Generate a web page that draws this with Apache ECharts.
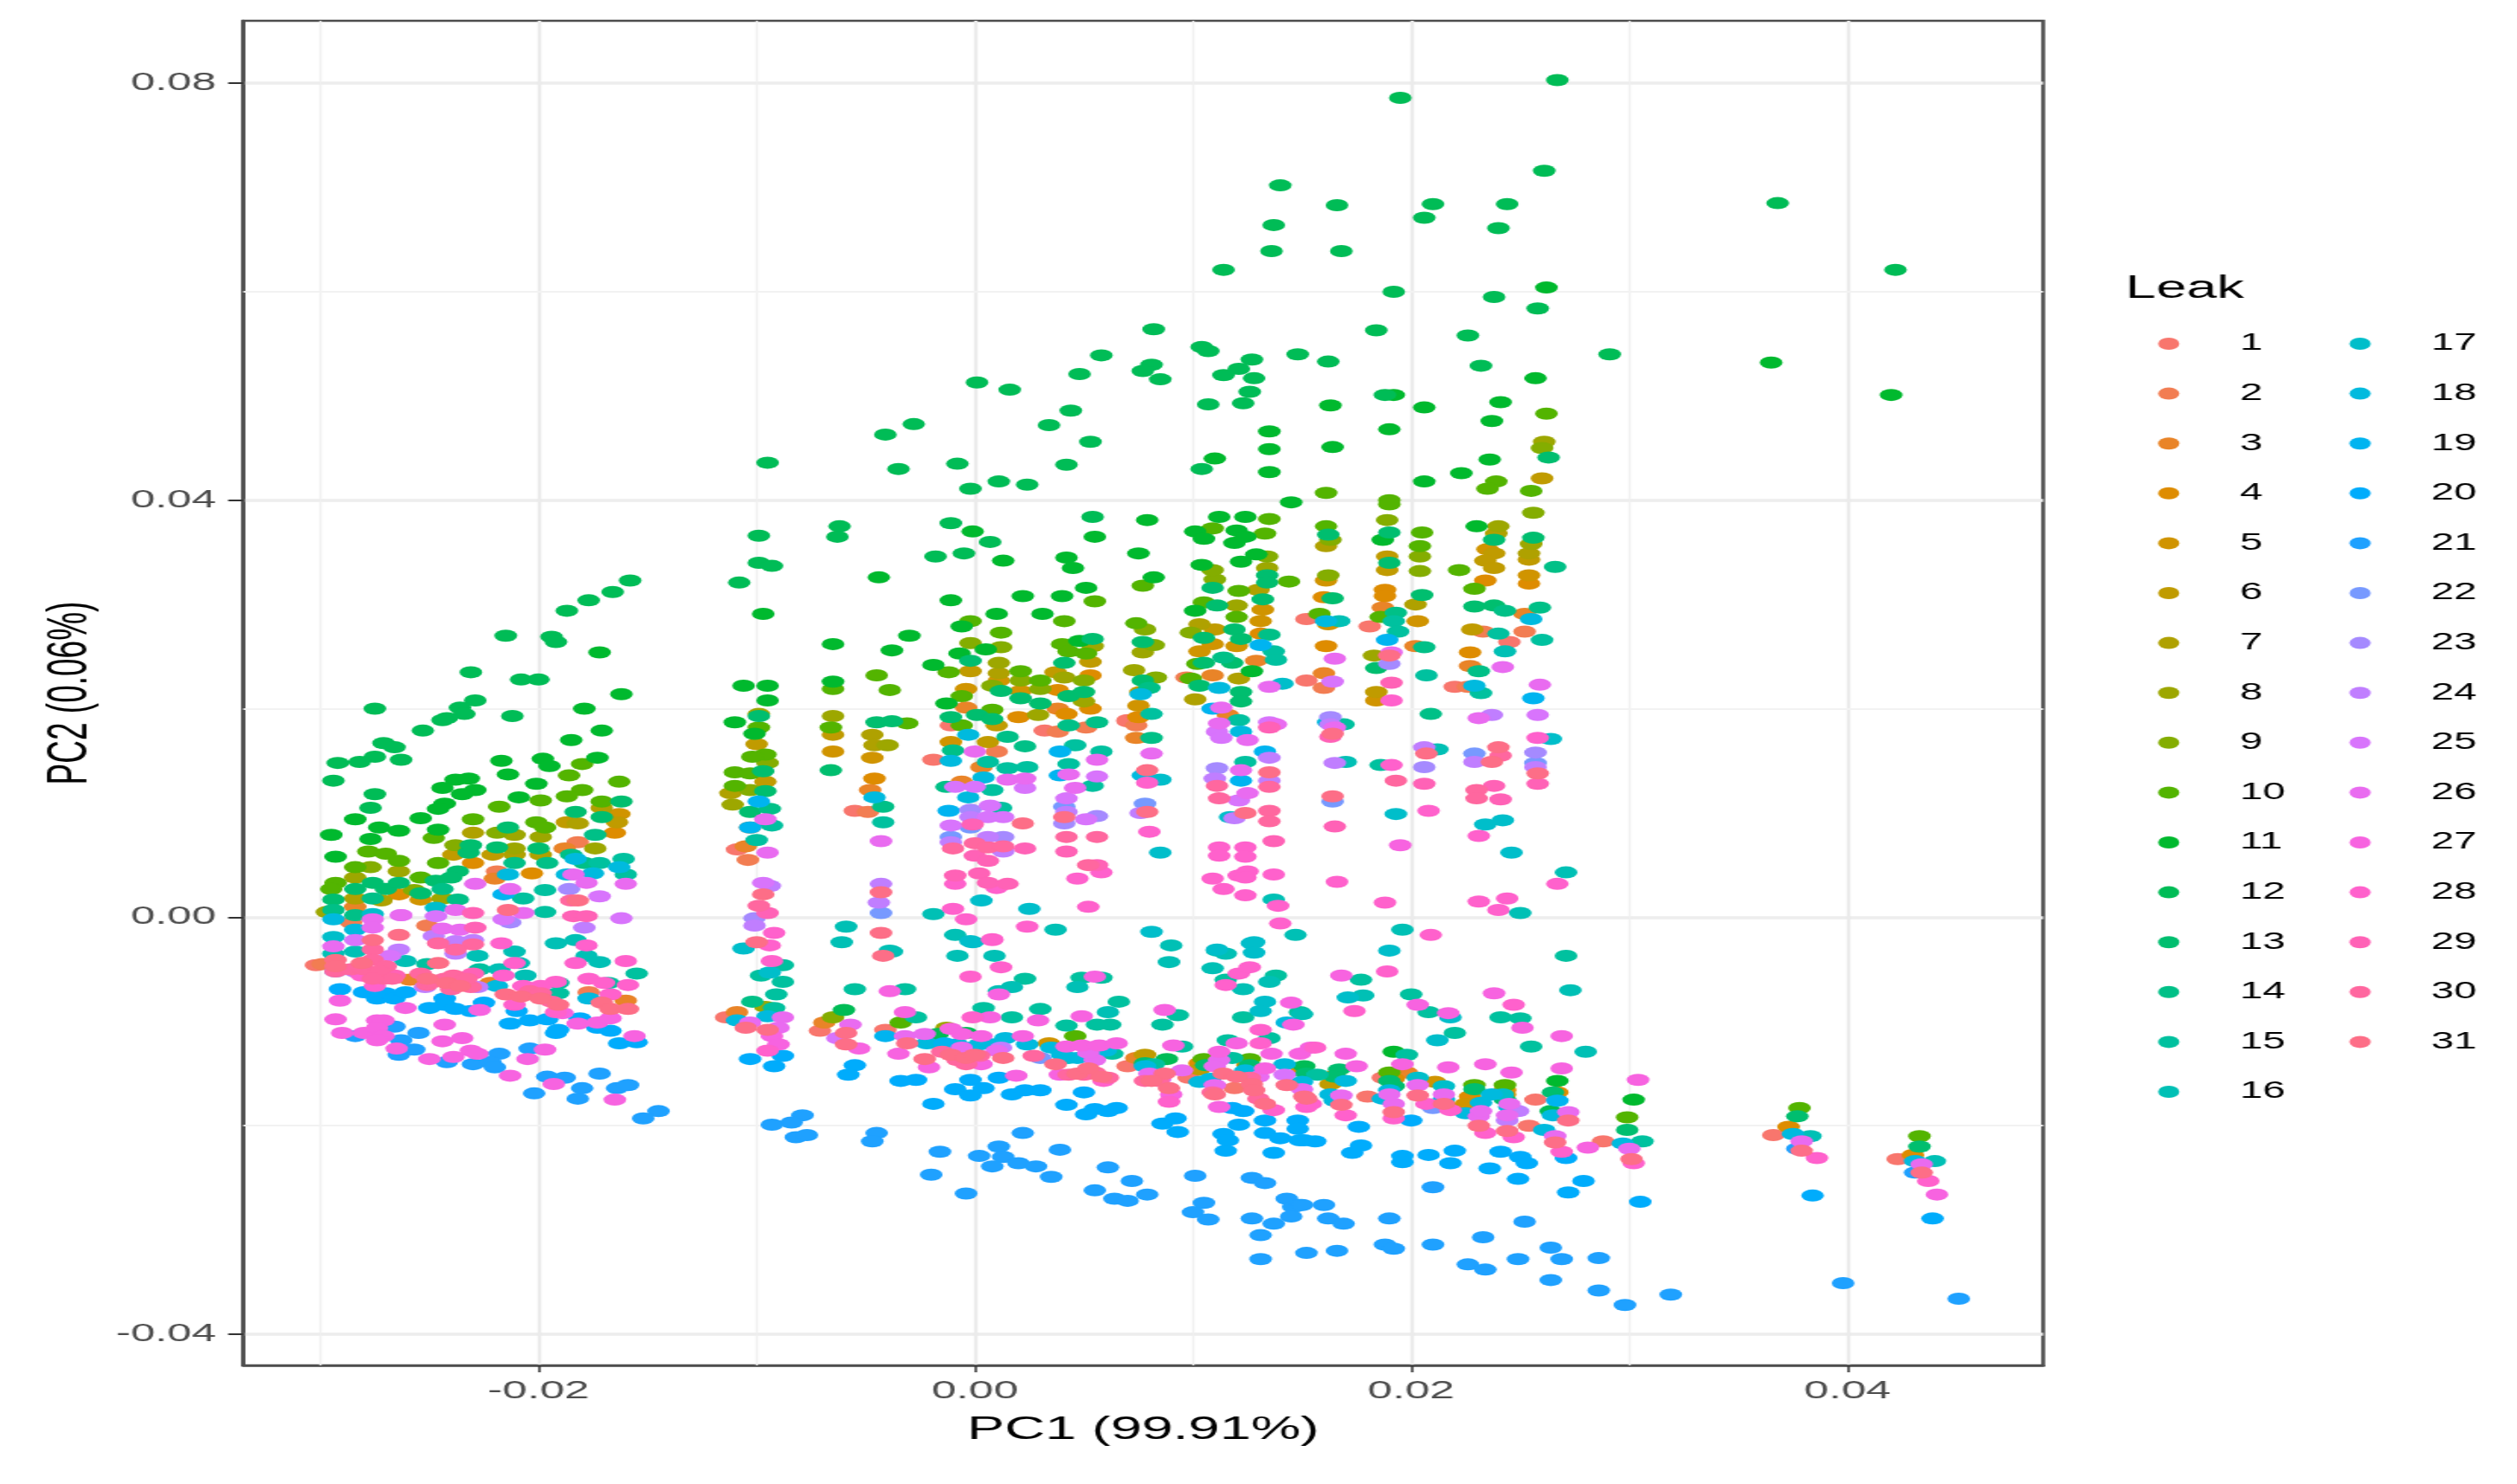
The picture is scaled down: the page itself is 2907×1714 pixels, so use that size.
<!DOCTYPE html>
<html>
<head>
<meta charset="utf-8">
<style>
  html, body { margin: 0; padding: 0; background: #fff; overflow: hidden; }
  #chart { height: 1714px; transform-origin: 0 0; }
</style>
<script src="https://cdn.jsdelivr.net/npm/echarts@6/dist/echarts.min.js"></script>
</head>
<body>
<div id="chart"></div>
<script>
// points, [PC1, PC2], one list per leak
const leak1 = [[-.0055,.0102],[-.0019,.0151],[.0032,.0179],[.0070,.0188],[-.0109,.0065],[-.0011,.0184],[.0152,.0227],[.0152,.0286],[.0181,.0279],[.0220,.0221],[.0245,.0264],[.0070,.0189],[-.0302,-.0046],[-.0114,-.0096],[-.0071,-.0109],[-.0041,-.0108],[.0070,-.0143],[.0098,-.0154],[.0119,-.0164],[.0180,-.0172],[.0187,-.0154],[.0257,-.0175],[.0254,-.0200],[.0288,-.0215],[.0366,-.0209],[.0423,-.0232]]
const leak2 = [[-.0049,.0101],[.0038,.0178],[.0051,.0182],[-.0104,.0055],[.0010,.0159],[.0160,.0220],[.0226,.0221],[.0252,.0274],[.0233,.0274],[.0097,.0230],[.0074,.0184],[-.0182,.0072],[-.0219,.0044],[-.0286,-.0005],[-.0251,-.0008],[-.0299,-.0045],[-.0177,-.0072]]
const leak3 = [[-.0004,.0201],[.0038,.0200],[-.0048,.0122],[-.0006,.0130],[.0003,.0144],[-.0105,.0068],[-.0103,.0086],[.0187,.0297],[.0160,.0234],[.0202,.0260],[.0227,.0241],[.0252,.0291],[.0109,.0232],[.0129,.0246],[.0116,.0194],[.0074,.0172],[-.0188,.0066],[-.0220,.0037],[-.0284,.0010],[-.0222,-.0063],[-.0259,-.0060],[-.0160,-.0080],[-.0109,-.0091],[-.0069,-.0101],[.0074,-.0135],[.0198,-.0149]]
const leak4 = [[.0020,.0192],[.0038,.0218],[.0042,.0195],[.0053,.0232],[.0053,.0200],[-.0046,.0133],[.0188,.0314],[.0188,.0308],[.0234,.0323],[.0254,.0320],[.0160,.0307],[.0161,.0260],[.0227,.0254],[.0131,.0272],[.0075,.0192],[-.0165,.0081],[-.0230,.0052],[-.0203,.0042],[-.0264,.0022],[.0267,-.0168],[.0373,-.0201],[.0430,-.0228],[.0103,-.0140],[.0125,-.0142],[.0150,-.0145],[.0165,-.0152],[.0192,-.0155],[.0227,-.0172],[.0243,-.0166]]
const leak5 = [[-.0004,.0219],[.0011,.0227],[.0021,.0217],[-.0065,.0159],[-.0047,.0153],[-.0011,.0168],[.0162,.0281],[.0161,.0323],[.0254,.0328],[.0235,.0353],[.0203,.0284],[.0103,.0255],[.0109,.0262],[.0120,.0260],[.0131,.0284],[.0132,.0295],[.0075,.0203],[.0184,.0208],[-.0163,.0099],[-.0254,.0017],[.0034,-.0121],[.0211,-.0158],[.0243,-.0170],[.0225,-.0179]]
const leak6 = [[-.0096,.0130],[-.0100,.0166],[-.0065,.0175],[.0053,.0245],[-.0002,.0236],[.0037,.0235],[.0006,.0168],[.0010,.0184],[.0189,.0346],[.0189,.0333],[.0238,.0349],[.0234,.0342],[.0238,.0335],[.0254,.0343],[.0110,.0276],[.0076,.0216],[.0184,.0216],[.0228,.0276],[.0260,.0421],[-.0187,.0091],[-.0164,.0091],[-.0239,.0060],[-.0221,.0060],[.0078,-.0132],[.0103,-.0146],[.0163,-.0160]]
const leak7 = [[-.0047,.0175],[-.0046,.0165],[-.0112,.0119],[.0011,.0234],[.0161,.0356],[.0202,.0300],[.0239,.0368],[.0254,.0349],[.0101,.0209],[.0103,.0281],[.0121,.0229],[.0130,.0314],[-.0284,.0018],[-.0230,.0081],[-.0211,.0060],[-.0199,.0060],[-.0182,.0090],[-.0171,.0105],[-.0272,.0016]]
const leak8 = [[-.0099,.0195],[-.0065,.0193],[-.0040,.0165],[.0029,.0194],[-.0111,.0108],[.0054,.0260],[.0011,.0244],[.0041,.0230],[.0050,.0207],[.0077,.0254],[.0073,.0237],[.0120,.0299],[.0134,.0335],[.0183,.0251],[.0240,.0375],[.0255,.0358],[.0261,.0456],[-.0264,.0044],[-.0284,.0038],[-.0244,.0018],[-.0211,.0079],[-.0199,.0077],[-.0211,.0066],[-.0174,.0066],[-.0297,.0005],[-.0096,-.0086],[-.0013,-.0106]]
const leak9 = [[-.0002,.0263],[.0012,.0259],[.0021,.0227],[.0030,.0219],[.0050,.0227],[.0008,.0222],[-.0103,.0122],[-.0095,.0148],[.0078,.0276],[.0082,.0261],[.0083,.0230],[.0110,.0324],[.0109,.0333],[.0099,.0273],[.0134,.0346],[.0162,.0328],[.0163,.0362],[.0189,.0381],[.0204,.0346],[.0204,.0332],[.0256,.0388],[.0260,.0450],[-.0277,.0048],[-.0257,.0026],[-.0238,.0069],[-.0219,.0081],[-.0065,-.0096]]
const leak10 = [[.0055,.0303],[.0041,.0284],[.0012,.0273],[-.0002,.0284],[-.0045,.0232],[-.0039,.0218],[-.0065,.0219],[-.0012,.0235],[.0021,.0236],[.0030,.0227],[.0040,.0262],[.0043,.0255],[.0051,.0253],[-.0031,.0186],[-.0099,.0182],[-.0066,.0182],[-.0096,.0156],[-.0102,.0154],[-.0110,.0139],[-.0103,.0138],[-.0110,.0126],[-.0006,.0212],[.0008,.0199],[-.0006,.0184],[.0161,.0407],[.0190,.0400],[.0190,.0396],[.0161,.0375],[.0204,.0356],[.0222,.0333],[.0229,.0315],[.0144,.0322],[.0074,.0282],[.0121,.0313],[.0105,.0302],[.0120,.0288],[.0186,.0288],[.0158,.0291],[.0102,.0243],[.0099,.0229],[.0109,.0373],[.0133,.0368],[.0135,.0382],[.0205,.0369],[.0077,.0318],[.0262,.0483],[.0239,.0418],[.0235,.0411],[.0255,.0409],[-.0180,.0147],[-.0186,.0136],[-.0163,.0130],[-.0180,.0122],[-.0187,.0116],[-.0199,.0112],[-.0218,.0106],[-.0171,.0111],[-.0201,.0091],[-.0197,.0086],[-.0230,.0094],[-.0248,.0076],[-.0278,.0063],[-.0270,.0061],[-.0264,.0054],[-.0284,.0048],[-.0246,.0052],[-.0254,.0038],[-.0293,.0033],[-.0295,.0027],[-.0034,-.0101],[.0046,-.0114],[.0105,-.0136],[.0126,-.0136],[.0190,-.0149],[.0229,-.0161],[.0243,-.0161],[.0299,-.0192],[.0378,-.0183],[.0433,-.0210]]
const leak11 = [[-.0172,.0254],[-.0162,.0214],[-.0179,.0200],[-.0171,.0179],[-.0185,.0170],[-.0173,.0153],[-.0198,.0152],[-.0195,.0145],[-.0217,.0150],[-.0214,.0137],[-.0201,.0128],[-.0238,.0132],[-.0232,.0133],[-.0244,.0124],[-.0229,.0122],[-.0235,.0118],[-.0209,.0115],[-.0243,.0109],[-.0246,.0104],[-.0254,.0095],[-.0284,.0094],[-.0295,.0079],[-.0273,.0086],[-.0264,.0083],[-.0277,.0075],[-.0246,.0084],[-.0293,.0058],[-.0097,.0291],[-.0044,.0326],[-.0011,.0304],[.0022,.0308],[.0040,.0308],[.0051,.0316],[.0031,.0291],[.0010,.0291],[-.0030,.0270],[-.0038,.0256],[-.0065,.0262],[-.0006,.0279],[-.0065,.0226],[-.0106,.0222],[-.0095,.0222],[-.0095,.0208],[-.0110,.0187],[-.0101,.0176],[.0005,.0257],[-.0007,.0253],[-.0019,.0242],[.0048,.0265],[-.0013,.0205],[.0055,.0365],[-.0001,.0370],[.0013,.0342],[.0042,.0345],[.0045,.0335],[.0079,.0381],[.0075,.0349],[.0112,.0384],[.0124,.0384],[.0101,.0370],[.0105,.0363],[.0120,.0371],[.0119,.0359],[.0124,.0365],[.0104,.0338],[.0122,.0341],[.0129,.0348],[.0101,.0294],[.0127,.0236],[.0187,.0362],[.0145,.0398],[.0135,.0427],[.0135,.0449],[.0230,.0375],[.0110,.0440],[.0082,.0326],[.0262,.0604],[.0257,.0517],[.0192,.0501],[.0163,.0491],[.0206,.0489],[.0241,.0494],[.0237,.0476],[.0190,.0468],[.0135,.0466],[.0164,.0451],[.0236,.0439],[.0223,.0426],[.0206,.0418],[.0365,.0532],[.0420,.0501],[.0192,-.0129],[.0267,-.0157],[.0302,-.0175]]
const leak12 = [[.0267,.0803],[.0195,.0786],[.0261,.0716],[.0140,.0702],[.0166,.0683],[.0210,.0684],[.0244,.0684],[.0206,.0671],[.0137,.0664],[.0240,.0661],[.0136,.0639],[.0168,.0639],[.0114,.0621],[.0192,.0600],[.0238,.0595],[.0258,.0584],[.0082,.0564],[.0184,.0563],[.0226,.0558],[.0104,.0547],[.0107,.0543],[.0058,.0539],[.0127,.0535],[.0148,.0540],[.0162,.0533],[.0291,.0540],[.0081,.0530],[.0077,.0524],[.0048,.0521],[.0085,.0516],[.0121,.0526],[.0114,.0520],[.0128,.0517],[.0232,.0529],[.0001,.0513],[.0016,.0506],[.0126,.0504],[.0188,.0501],[.0107,.0492],[.0123,.0493],[.0044,.0486],[.0034,.0472],[-.0028,.0473],[-.0041,.0463],[.0053,.0456],[.0368,.0685],[.0422,.0621],[-.0095,.0436],[-.0035,.0430],[-.0008,.0435],[.0042,.0434],[-.0002,.0411],[.0011,.0418],[.0024,.0415],[.0054,.0384],[-.0011,.0378],[.0007,.0360],[-.0018,.0346],[-.0005,.0349],[-.0062,.0375],[-.0063,.0365],[-.0099,.0366],[-.0099,.0340],[-.0093,.0337],[-.0108,.0321],[.0104,.0430],[-.0215,.0270],[-.0194,.0269],[-.0192,.0264],[-.0187,.0294],[-.0177,.0304],[-.0166,.0312],[-.0158,.0323],[-.0231,.0235],[-.0208,.0228],[-.0200,.0228],[-.0229,.0208],[-.0236,.0201],[-.0234,.0195],[-.0242,.0191],[-.0244,.0189],[-.0253,.0179],[-.0275,.0200],[-.0212,.0193],[-.0271,.0167],[-.0266,.0163],[-.0275,.0154],[-.0282,.0149],[-.0292,.0148],[-.0263,.0151],[-.0294,.0131],[-.0275,.0118],[-.0277,.0105],[-.0060,-.0089],[.0088,-.0136],[.0151,-.0143],[.0264,-.0186],[-.0017,-.0112],[-.0004,-.0111]]
const leak13 = [[-.0099,.0193],[.0054,.0267],[-.0002,.0246],[-.0045,.0187],[-.0038,.0188],[-.0011,.0192],[.0001,.0194],[.0008,.0190],[.0012,.0217],[.0021,.0210],[.0030,.0205],[.0041,.0244],[.0043,.0212],[.0050,.0216],[-.0097,.0140],[-.0096,.0121],[-.0066,.0141],[-.0103,.0101],[.0077,.0264],[.0077,.0227],[.0109,.0316],[.0111,.0299],[.0105,.0268],[.0105,.0244],[.0103,.0222],[.0119,.0276],[.0122,.0267],[.0118,.0244],[.0122,.0216],[.0122,.0207],[.0134,.0328],[.0134,.0321],[.0132,.0305],[.0162,.0367],[.0164,.0306],[.0190,.0369],[.0190,.0340],[.0205,.0309],[.0184,.0239],[.0238,.0362],[.0229,.0298],[.0238,.0299],[.0256,.0364],[.0263,.0441],[-.0276,.0033],[-.0270,.0027],[-.0264,.0033],[-.0284,.0027],[-.0294,.0017],[-.0254,.0023],[-.0247,.0035],[-.0237,.0044],[-.0232,.0062],[-.0231,.0069],[-.0240,.0038],[-.0214,.0086],[-.0219,.0067],[-.0200,.0066],[-.0183,.0101],[-.0171,.0096],[-.0162,.0111],[.0167,-.0146],[.0229,-.0165],[.0299,-.0204],[.0190,-.0157],[.0377,-.0191],[.0433,-.0220],[.0078,-.0140],[.0106,-.0142],[.0126,-.0142],[.0152,-.0150],[.0165,-.0153],[.0192,-.0162],[.0243,-.0175],[.0265,-.0168]]
const leak14 = [[.0043,.0184],[.0056,.0187],[-.0010,.0160],[.0015,.0173],[.0023,.0164],[-.0013,.0125],[-.0042,.0106],[-.0094,.0104],[.0080,.0220],[.0081,.0172],[.0114,.0249],[.0135,.0271],[.0193,.0292],[.0206,.0259],[.0209,.0195],[.0243,.0294],[.0231,.0236],[.0266,.0336],[.0259,.0297],[-.0276,.0018],[-.0294,.0007],[-.0284,.0002],[-.0244,.0027],[-.0237,.0017],[-.0211,.0052],[-.0196,.0052],[-.0174,.0079],[-.0185,.0060],[-.0179,.0052],[-.0102,-.0081]]
const leak15 = [[.0046,.0165],[.0006,.0149],[.0015,.0143],[.0024,.0144],[.0043,.0147],[.0058,.0159],[.0008,.0122],[.0054,.0126],[.0012,.0105],[-.0042,.0091],[-.0093,.0088],[-.0100,.0074],[.0081,.0195],[.0121,.0189],[.0124,.0149],[.0137,.0255],[.0138,.0247],[.0192,.0284],[.0194,.0274],[.0207,.0232],[.0240,.0272],[.0232,.0215],[.0260,.0266],[.0169,.0185],[.0186,.0146],[-.0161,.0056],[-.0172,.0052],[-.0160,.0041],[-.0197,.0026],[-.0207,.0018],[-.0197,.0005],[-.0155,-.0054],[-.0191,-.0063],[-.0168,-.0063],[-.0251,-.0045],[-.0227,-.0050],[-.0191,-.0073],[.0115,-.0060],[.0138,-.0056],[.0023,-.0059],[.0049,-.0058],[.0058,-.0058],[.0066,-.0081],[.0062,-.0103],[.0056,-.0103],[.0042,-.0104],[.0030,-.0088],[.0017,-.0096],[.0004,-.0087],[-.0055,-.0069],[-.0032,-.0069],[-.0091,-.0074],[-.0088,-.0062],[-.0088,-.0046],[-.0098,-.0056],[-.0092,-.0087],[-.0027,-.0096],[.0093,-.0094],[.0086,-.0103],[.0095,-.0124],[.0123,-.0096],[.0149,-.0091],[.0116,-.0118],[.0135,-.0116],[.0063,-.0131],[.0082,-.0141],[.0118,-.0135],[.0157,-.0151],[.0177,-.0060],[.0200,-.0074],[.0208,-.0091],[.0220,-.0111],[.0241,-.0096],[.0250,-.0097],[.0271,-.0037],[.0255,-.0124],[.0198,-.0132],[.0306,-.0215]]
const leak16 = [[-.0059,-.0009],[-.0019,.0003],[.0037,-.0012],[-.0009,-.0017],[-.0039,-.0032],[.0167,.0284],[.0243,.0255],[.0212,.0161],[.0170,.0149],[.0271,.0043],[.0250,.0004],[.0137,.0017],[.0090,-.0027],[.0147,-.0017],[.0196,-.0012],[-.0192,-.0025],[-.0183,-.0022],[-.0211,-.0033],[-.0209,-.0044],[-.0261,-.0042],[-.0228,-.0037],[-.0178,-.0037],[-.0172,-.0043],[-.0206,-.0056],[-.0284,-.0033],[-.0294,-.0035],[-.0218,-.0050],[-.0061,-.0024],[-.0038,-.0033],[-.0008,-.0037],[.0009,-.0037],[.0089,-.0043],[.0111,-.0032],[.0115,-.0035],[.0109,-.0049],[.0123,-.0069],[.0135,-.0062],[.0017,-.0067],[.0011,-.0071],[.0047,-.0067],[.0061,-.0091],[.0178,-.0075],[.0150,-.0093],[.0273,-.0070],[.0280,-.0129],[.0383,-.0210],[.0440,-.0234]]
const leak17 = [[.0003,.0016],[.0025,.0008],[-.0002,-.0023],[.0085,.0132],[.0141,.0224],[.0117,.0096],[.0085,.0062],[.0193,.0099],[.0234,.0089],[.0242,.0093],[.0246,.0062],[.0081,-.0014],[.0111,-.0031],[.0127,-.0025],[.0264,.0171],[-.0294,-.0019],[-.0276,.0003],[-.0247,.0009],[-.0106,-.0030],[-.0001,-.0024],[.0128,-.0024],[.0128,-.0034],[.0133,-.0081],[.0131,-.0090],[-.0094,-.0053],[.0043,-.0135],[.0190,-.0032],[.0171,-.0077],[.0218,-.0096],[.0212,-.0118],[.0203,-.0154],[.0215,-.0162],[.0242,-.0170]]
const leak18 = [[-.0003,.0175],[-.0011,.0150],[.0004,.0134],[-.0003,.0115],[-.0046,.0115],[.0076,.0214],[.0112,.0220],[.0122,.0178],[.0161,.0284],[.0229,.0222],[.0255,.0286],[.0077,.0136],[.0162,.0187],[-.0294,-.0002],[-.0284,-.0012],[-.0214,.0041],[-.0183,.0056],[-.0175,.0042],[-.0163,.0048],[-.0187,.0041],[-.0219,-.0066],[-.0177,-.0078],[-.0095,-.0095],[-.0109,-.0099],[.0014,-.0116],[.0024,-.0122],[.0078,-.0143],[.0124,-.0147],[.0103,-.0158],[.0142,-.0141],[.0143,-.0101],[.0170,-.0157],[.0163,-.0170],[.0187,-.0174],[.0237,-.0170],[.0225,-.0188],[.0261,-.0204],[.0297,-.0217],[.0375,-.0208],[.0431,-.0234],[-.0008,-.0122],[.0002,-.0122],[-.0022,-.0121],[.0054,-.0135],[.0047,-.0135],[.0082,-.0150],[.0108,-.0155],[.0128,-.0152],[.0150,-.0158],[.0165,-.0176],[.0190,-.0166],[.0215,-.0175],[.0232,-.0178],[.0245,-.0182],[.0265,-.0190],[.0008,-.0122],[.0035,-.0125],[.0040,-.0132],[.0060,-.0128]]
const leak19 = [[.0039,.0159],[.0039,.0136],[-.0099,.0111],[-.0103,.0086],[-.0012,.0102],[.0109,.0200],[.0131,.0261],[.0189,.0266],[.0256,.0210],[.0133,.0159],[.0122,.0131],[-.0216,.0022],[-.0041,-.0114],[-.0014,-.0121],[.0267,-.0176]]
const leak20 = [[-.0291,-.0069],[-.0280,-.0072],[-.0274,-.0078],[-.0270,-.0073],[-.0266,-.0078],[-.0261,-.0072],[-.0243,-.0078],[-.0243,-.0084],[-.0250,-.0087],[-.0238,-.0088],[-.0231,-.0090],[-.0225,-.0082],[-.0213,-.0102],[-.0204,-.0099],[-.0196,-.0098],[-.0191,-.0108],[-.0192,-.0111],[-.0210,-.0090],[-.0173,-.0106],[-.0167,-.0109],[-.0181,-.0097],[-.0163,-.0121],[-.0155,-.0120],[-.0103,-.0136],[-.0088,-.0133],[-.0092,-.0143],[-.0055,-.0142],[-.0058,-.0151],[-.0034,-.0157],[-.0027,-.0156],[-.0019,-.0179],[-.0009,-.0165],[-.0002,-.0156],[-.0002,-.0171],[.0004,-.0164],[.0011,-.0154],[.0017,-.0170],[.0023,-.0166],[.0030,-.0166],[.0050,-.0168],[.0042,-.0180],[.0051,-.0189],[.0055,-.0184],[.0061,-.0186],[.0065,-.0183],[.0086,-.0198],[.0092,-.0193],[.0093,-.0206],[.0114,-.0208],[.0116,-.0214],[.0115,-.0224],[.0121,-.0199],[.0118,-.0183],[.0123,-.0186],[.0133,-.0195],[.0133,-.0207],[.0140,-.0212],[.0148,-.0195],[.0148,-.0203],[.0149,-.0214],[.0137,-.0226],[.0176,-.0201],[.0151,-.0214],[.0156,-.0215],[.0177,-.0219],[.0173,-.0226],[.0200,-.0195],[.0196,-.0229],[.0196,-.0235],[.0208,-.0228],[.0220,-.0224],[.0218,-.0236],[.0241,-.0225],[.0250,-.0230],[.0253,-.0236],[.0236,-.0241],[.0249,-.0251],[.0271,-.0231],[.0279,-.0253],[.0272,-.0264],[.0305,-.0273],[.0384,-.0267],[.0439,-.0289]]
const leak21 = [[-.0204,-.0126],[-.0284,-.0114],[-.0266,-.0105],[-.0263,-.0118],[-.0255,-.0111],[-.0264,-.0132],[-.0257,-.0127],[-.0242,-.0139],[-.0218,-.0131],[-.0230,-.0141],[-.0222,-.0139],[-.0220,-.0144],[-.0196,-.0153],[-.0188,-.0154],[-.0172,-.0150],[-.0180,-.0164],[-.0182,-.0174],[-.0202,-.0169],[-.0164,-.0164],[-.0159,-.0161],[-.0145,-.0186],[-.0152,-.0193],[-.0079,-.0190],[-.0084,-.0197],[-.0093,-.0199],[-.0082,-.0211],[-.0077,-.0209],[-.0045,-.0207],[-.0047,-.0215],[-.0016,-.0225],[-.0020,-.0247],[-.0004,-.0265],[.0002,-.0229],[.0011,-.0220],[.0013,-.0230],[.0008,-.0239],[.0020,-.0236],[.0028,-.0239],[.0022,-.0207],[.0039,-.0223],[.0035,-.0249],[.0061,-.0240],[.0072,-.0253],[.0055,-.0262],[.0064,-.0270],[.0070,-.0272],[.0079,-.0266],[.0101,-.0248],[.0105,-.0274],[.0100,-.0283],[.0107,-.0290],[.0127,-.0250],[.0133,-.0255],[.0143,-.0270],[.0149,-.0276],[.0146,-.0278],[.0145,-.0287],[.0127,-.0289],[.0137,-.0294],[.0131,-.0305],[.0131,-.0328],[.0152,-.0322],[.0210,-.0259],[.0160,-.0276],[.0150,-.0276],[.0162,-.0289],[.0169,-.0294],[.0190,-.0289],[.0252,-.0292],[.0166,-.0320],[.0188,-.0314],[.0192,-.0318],[.0210,-.0314],[.0233,-.0307],[.0226,-.0333],[.0234,-.0338],[.0249,-.0328],[.0264,-.0317],[.0269,-.0328],[.0286,-.0327],[.0264,-.0348],[.0286,-.0358],[.0298,-.0372],[.0319,-.0362],[.0377,-.0222],[.0431,-.0245],[.0398,-.0351],[.0451,-.0366]]
const leak22 = [[.0041,.0106],[-.0002,.0086],[-.0011,.0077],[-.0043,.0004],[.0078,.0109],[.0164,.0111],[.0229,.0157],[.0257,.0148],[-.0293,-.0052],[.0210,-.0183],[.0030,-.0135]]
const leak23 = [[.0041,.0090],[.0056,.0097],[-.0002,.0103],[.0013,.0077],[-.0101,-.0001],[.0163,.0192],[.0190,.0243],[.0111,.0143],[.0206,.0144],[.0257,.0158],[-.0186,.0027],[-.0213,-.0005]]
const leak24 = [[.0042,.0101],[-.0002,.0096],[-.0011,.0072],[.0006,.0077],[.0013,.0063],[-.0043,.0032],[-.0044,.0014],[-.0094,.0030],[-.0101,-.0008],[.0163,.0185],[.0076,.0100],[.0110,.0133],[.0119,.0095],[.0135,.0153],[.0135,.0131],[.0165,.0148],[.0206,.0163],[.0229,.0149],[.0237,.0194],[.0257,.0144],[-.0179,-.0010],[-.0248,-.0018],[-.0238,-.0023],[-.0230,-.0022],[-.0264,-.0031],[-.0238,-.0035],[-.0284,-.0052],[-.0252,-.0067],[-.0228,-.0067],[.0012,-.0125],[.0249,-.0186],[.0244,-.0195]]
const leak25 = [[-.0009,.0125],[.0000,.0125],[.0023,.0124],[.0056,.0135],[.0042,.0114],[.0051,.0094],[.0007,.0107],[.0006,.0096],[.0013,.0096],[-.0011,.0088],[-.0097,.0033],[.0111,.0178],[.0113,.0172],[.0121,.0112],[.0135,.0187],[.0164,.0226],[.0258,.0194],[-.0263,.0002],[-.0247,.0001],[-.0216,-.0002],[-.0172,.0020],[-.0162,-.0001],[-.0284,-.0022],[-.0268,-.0037],[-.0063,-.0116],[.0142,-.0151]]
const leak26 = [[-.0043,.0073],[-.0095,.0062],[-.0096,.0094],[.0000,.0159],[.0015,.0132],[.0023,.0133],[.0056,.0151],[.0043,.0137],[.0046,.0124],[.0135,.0221],[.0113,.0201],[.0112,.0186],[.0125,.0170],[.0138,.0185],[.0165,.0248],[.0165,.0182],[.0191,.0254],[.0081,.0157],[.0122,.0141],[.0125,.0119],[.0231,.0191],[.0242,.0240],[.0259,.0223],[-.0263,.0002],[-.0276,-.0002],[-.0276,-.0010],[-.0229,.0032],[-.0238,.0007],[-.0213,.0027],[-.0207,.0004],[-.0184,.0041],[-.0178,.0033],[-.0160,.0032],[-.0244,-.0011],[-.0236,-.0012],[-.0294,-.0028],[-.0103,-.0101],[-.0088,-.0096],[-.0090,-.0106],[-.0057,-.0103],[-.0032,-.0114],[-.0023,-.0112],[-.0006,-.0125],[.0055,-.0137],[.0095,-.0147],[.0080,-.0150],[.0112,-.0137],[.0110,-.0143],[.0110,-.0161],[.0168,-.0171],[.0203,-.0161],[.0192,-.0179],[.0215,-.0170],[.0245,-.0179],[.0231,-.0191],[.0272,-.0187],[.0266,-.0210],[.0300,-.0222],[.0379,-.0215],[.0434,-.0237],[.0085,-.0155],[.0130,-.0153],[.0150,-.0165],[.0190,-.0170],[.0232,-.0186],[.0244,-.0190],[.0010,-.0128],[.0052,-.0130]]
const leak27 = [[-.0291,-.0080],[-.0293,-.0098],[-.0290,-.0111],[-.0280,-.0111],[-.0274,-.0099],[-.0271,-.0099],[-.0274,-.0106],[-.0271,-.0114],[-.0274,-.0118],[-.0265,-.0126],[-.0243,-.0103],[-.0244,-.0119],[-.0235,-.0116],[-.0250,-.0136],[-.0239,-.0134],[-.0231,-.0128],[-.0228,-.0131],[-.0213,-.0152],[-.0205,-.0136],[-.0197,-.0127],[-.0193,-.0160],[-.0182,-.0102],[-.0173,-.0101],[-.0167,-.0097],[-.0156,-.0114],[-.0165,-.0175],[-.0261,-.0087],[-.0227,-.0089],[-.0189,-.0092],[.0195,.0069],[-.0093,-.0114],[-.0090,-.0122],[-.0053,-.0126],[-.0032,-.0091],[-.0035,-.0131],[-.0021,-.0144],[-.0011,-.0107],[-.0006,-.0112],[.0003,-.0114],[.0007,-.0096],[.0003,-.0141],[.0022,-.0114],[.0029,-.0099],[.0019,-.0152],[.0042,-.0124],[.0049,-.0123],[.0057,-.0123],[.0065,-.0121],[.0039,-.0151],[.0049,-.0095],[.0055,-.0057],[-.0039,-.0071],[.0011,-.0074],[.0087,-.0089],[.0091,-.0123],[.0120,-.0121],[.0112,-.0129],[.0090,-.0170],[.0112,-.0182],[.0133,-.0145],[.0145,-.0082],[.0146,-.0103],[.0136,-.0131],[.0149,-.0131],[.0154,-.0125],[.0168,-.0056],[.0203,-.0084],[.0217,-.0092],[.0238,-.0073],[.0251,-.0106],[.0269,-.0114],[.0170,-.0131],[.0175,-.0143],[.0217,-.0144],[.0234,-.0141],[.0246,-.0149],[.0269,-.0145],[.0196,-.0141],[.0304,-.0156],[.0281,-.0221],[.0441,-.0266]]
const leak28 = [[.0058,.0043],[.0047,.0037],[.0052,.0010],[-.0010,.0008],[-.0004,-.0002],[.0024,-.0009],[.0008,-.0021],[-.0092,-.0015],[-.0094,-.0027],[-.0009,.0032],[.0010,.0028],[.0080,.0082],[.0112,.0067],[.0112,.0059],[.0124,.0067],[.0124,.0058],[.0109,.0037],[.0121,.0040],[.0125,.0044],[.0124,.0038],[.0137,.0041],[.0114,.0027],[.0124,.0021],[.0139,.0011],[.0140,-.0006],[.0166,.0034],[.0188,.0014],[.0191,.0146],[.0191,.0208],[.0208,.0102],[.0209,-.0017],[.0231,.0078],[.0231,.0015],[.0244,.0018],[.0240,.0007],[.0258,.0172],[.0267,.0032],[.0079,.0129],[-.0183,-.0044],[-.0160,-.0042],[-.0211,-.0044],[-.0217,-.0025],[-.0178,-.0027],[-.0177,-.0059],[-.0170,-.0063],[-.0159,-.0065],[-.0167,-.0074],[-.0192,-.0062],[-.0199,-.0066],[-.0207,-.0066],[-.0216,-.0056],[-.0275,-.0066],[-.0281,-.0056],[-.0211,-.0084],[-.0192,-.0091],[-.0095,-.0128],[-.0093,-.0042],[.0008,-.0022],[.0012,-.0048],[-.0002,-.0057],[-.0001,-.0096],[.0059,-.0157],[.0089,-.0177],[.0121,-.0054],[.0126,-.0048],[.0115,-.0065],[.0131,-.0108],[.0131,-.0121],[.0137,-.0185],[.0152,-.0182],[.0189,-.0052],[.0247,-.0084],[.0174,-.0090],[.0156,-.0125],[.0170,-.0190],[.0154,-.0179],[.0192,-.0193],[.0207,-.0179],[.0218,-.0185],[.0234,-.0207],[.0247,-.0211],[.0269,-.0225],[.0302,-.0236],[.0386,-.0231],[.0437,-.0253]]
const leak29 = [[-.0001,.0089],[.0042,.0063],[.0023,.0066],[.0000,.0059],[.0006,.0054],[-.0009,.0040],[.0002,.0042],[.0006,.0033],[.0015,.0032],[.0056,.0050],[-.0095,.0004],[.0135,.0182],[.0163,.0173],[.0191,.0225],[.0165,.0087],[.0137,.0073],[.0206,.0128],[.0238,.0126],[.0241,.0113],[.0258,.0128],[-.0184,.0001],[-.0178,.0001],[-.0230,.0004],[-.0229,-.0010],[-.0266,-.0056],[-.0230,-.0054]]
const leak30 = [[.0056,.0077],[.0042,.0077],[-.0010,.0066],[.0000,.0071],[.0006,.0067],[.0013,.0068],[.0052,.0050],[-.0099,.0011],[.0111,.0126],[.0112,.0114],[.0135,.0125],[.0135,.0102],[.0135,.0092],[.0193,.0131],[.0241,.0155],[.0230,.0122],[.0230,.0114],[-.0293,-.0052],[-.0276,-.0031],[-.0276,-.0041],[-.0270,-.0047],[-.0271,-.0059],[-.0251,-.0065],[-.0243,-.0059],[-.0231,-.0067],[-.0230,-.0026],[-.0238,-.0031],[-.0246,-.0025],[-.0185,.0016],[-.0194,-.0081],[.0027,-.0133],[-.0286,-.0050],[-.0280,-.0050],[-.0273,-.0052],[-.0267,-.0059],[-.0276,-.0059],[-.0254,-.0054],[-.0249,-.0062],[-.0239,-.0056],[-.0240,-.0069],[-.0233,-.0059],[-.0204,-.0071],[-.0199,-.0073],[-.0015,-.0129],[-.0008,-.0137],[-.0004,-.0141],[.0002,-.0133],[.0043,-.0151],[.0050,-.0151],[.0055,-.0149],[.0061,-.0154],[.0084,-.0157],[.0078,-.0157],[.0126,-.0154],[.0130,-.0174],[.0109,-.0168]]
const leak31 = [[.0022,.0090],[.0041,.0096],[-.0043,.0024],[-.0043,-.0015],[-.0097,.0022],[-.0100,-.0024],[.0079,.0141],[.0079,.0101],[.0124,.0100],[.0135,.0139],[.0164,.0176],[.0164,.0116],[.0190,.0251],[.0207,.0157],[.0240,.0163],[.0237,.0149],[.0258,.0138],[-.0293,-.0041],[-.0293,-.0047],[-.0281,-.0044],[-.0276,-.0022],[-.0264,-.0017],[-.0251,-.0059],[-.0246,-.0044],[-.0242,-.0063],[-.0236,-.0066],[-.0214,.0007],[-.0182,.0016],[-.0215,-.0074],[-.0208,-.0076],[-.0199,-.0078],[-.0191,-.0084],[-.0171,-.0082],[-.0167,-.0088],[-.0159,-.0088],[-.0042,-.0037],[-.0105,-.0106],[-.0095,-.0108],[-.0059,-.0111],[-.0059,-.0122],[-.0031,-.0121],[-.0023,-.0136],[-.0011,-.0132],[-.0004,-.0135],[.0000,-.0132],[.0013,-.0135],[.0037,-.0141],[.0047,-.0150],[.0052,-.0145],[.0058,-.0153],[.0087,-.0150],[.0081,-.0157],[.0089,-.0164],[.0114,-.0150],[.0120,-.0153],[.0110,-.0170],[.0127,-.0160],[.0128,-.0166],[.0133,-.0179],[.0143,-.0161],[.0152,-.0174],[.0168,-.0180],[.0151,-.0172],[.0192,-.0187],[.0203,-.0171],[.0215,-.0179],[.0231,-.0200],[.0244,-.0205],[.0272,-.0195],[.0266,-.0216],[.0301,-.0232],[.0379,-.0224],[.0434,-.0245]]

const leakPoints = [leak1, leak2, leak3, leak4, leak5, leak6, leak7, leak8, leak9, leak10, leak11, leak12, leak13, leak14, leak15, leak16, leak17, leak18, leak19, leak20, leak21, leak22, leak23, leak24, leak25, leak26, leak27, leak28, leak29, leak30, leak31]
const leakNames = leakPoints.map((p, i) => String(i + 1))
const leakColors = ['#F8766D', '#F27D52', '#E98428', '#DE8C00', '#D09400', '#C09B00', '#AFA100', '#9DA700', '#84AD00', '#53B400', '#00B92E', '#00BC56', '#00BE6F', '#00C087', '#00C19F', '#00C0B5', '#00BECA', '#00BADE', '#00B4F0', '#00ACFC', '#1FA1FF', '#7799FF', '#A58AFF', '#C07EFF', '#D874FC', '#E96BF0', '#F763E0', '#FF61CC', '#FF62B6', '#FF679F', '#FD6E87']

const xMajorTicks = [-0.02, 0, 0.02, 0.04]
const xMinorTicks = [-0.03, -0.01, 0.01, 0.03]
const yMajorTicks = [-0.04, 0, 0.04, 0.08]
const yMinorTicks = [-0.02, 0.02, 0.06]

// the reference is a picture stretched sideways, so the whole chart is too
const stretch = 1.75
const pageWidth = 2907
const chartDom = document.getElementById('chart')
chartDom.style.width = (pageWidth / stretch) + 'px'
chartDom.style.transform = 'scaleX(' + stretch + ')'

const px = v => v / stretch
const grey = '#4d4d4d'
const font = 'Liberation Sans'
const borderLine = { color: '#4d4d4d', width: 2.5 }

const legendBase = {
  orient: 'vertical',
  top: 382,
  padding: 0,
  icon: 'circle',
  itemWidth: 84,
  itemHeight: 14,
  itemGap: 27.6,
  selectedMode: false,
  textStyle: { fontFamily: font, fontSize: 27, lineHeight: 30, color: '#000' }
}

// minor grid lines, they go under every point
const minorGrid = {
  silent: true,
  symbol: 'none',
  animation: false,
  z: 1,
  label: { show: false },
  data: [
    ...xMinorTicks.map(v => ({ xAxis: v, lineStyle: { type: 'solid', color: '#f0f0f0', width: 1.4 } })),
    ...yMinorTicks.map(v => ({ yAxis: v, lineStyle: { type: 'solid', color: '#f2f2f2', width: 2 } }))
  ]
}

const myChart = echarts.init(chartDom)
myChart.setOption({
  animation: false,
  backgroundColor: '#fff',
  textStyle: { fontFamily: font },
  title: {
    text: 'Leak',
    left: px(2455),
    top: 316,
    padding: 0,
    textStyle: { fontFamily: font, fontSize: 36, fontWeight: 'normal', color: '#000' }
  },
  grid: {
    left: px(281),
    right: px(pageWidth - 2360),
    top: 24,
    bottom: 1714 - 1577,
    show: true,
    borderColor: '#4d4d4d',
    borderWidth: 2.5,
    backgroundColor: '#fff'
  },
  xAxis: {
    type: 'value',
    min: -0.03353,
    max: 0.04897,
    name: 'PC1 (99.91%)',
    nameLocation: 'middle',
    nameGap: 56,
    nameTextStyle: { fontFamily: font, fontSize: 37, color: '#000' },
    axisLine: { show: true, onZero: false, lineStyle: borderLine },
    axisTick: { show: true, customValues: xMajorTicks, length: 8, lineStyle: { color: '#333', width: 1.5 } },
    axisLabel: { show: true, customValues: xMajorTicks, fontSize: 29.5, color: grey, margin: 15, formatter: v => v.toFixed(2) },
    splitLine: { show: true, lineStyle: { color: '#ebebeb', width: 2.4 } }
  },
  yAxis: {
    type: 'value',
    min: -0.04299,
    max: 0.08599,
    name: 'PC2 (0.06%)',
    nameLocation: 'middle',
    nameGap: 83,
    nameTextStyle: { fontFamily: font, fontSize: 37, color: '#000' },
    axisLine: { show: true, onZero: false, lineStyle: borderLine },
    axisTick: { show: true, customValues: yMajorTicks, length: 10, lineStyle: { color: '#333', width: 2 } },
    axisLabel: { show: true, customValues: yMajorTicks, fontSize: 29, color: grey, margin: 18, formatter: v => v.toFixed(2) },
    splitLine: { show: true, lineStyle: { color: '#ededed', width: 3.5 } }
  },
  legend: [
    { ...legendBase, data: leakNames.slice(0, 16), left: px(2503) - 6 },
    { ...legendBase, data: leakNames.slice(16), left: px(2724) - 6 }
  ],
  series: leakPoints.map((points, i) => ({
    name: leakNames[i],
    type: 'scatter',
    data: points,
    symbol: 'circle',
    symbolSize: [15, 14],
    itemStyle: { color: leakColors[i], opacity: 1 },
    emphasis: { disabled: true },
    markLine: i === 0 ? minorGrid : undefined
  }))
})
</script>
</body>
</html>
